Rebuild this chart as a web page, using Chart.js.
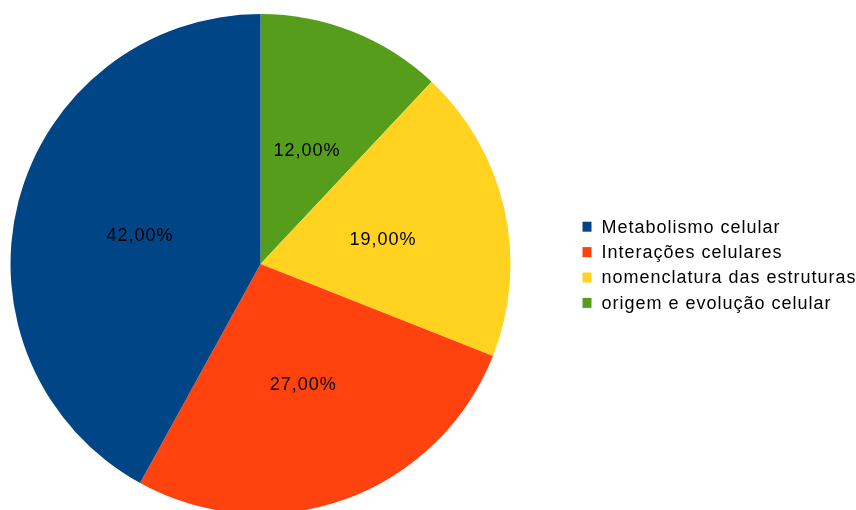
<!DOCTYPE html>
<html>
<head>
<meta charset="utf-8">
<script src="https://cdn.jsdelivr.net/npm/chart.js@4/dist/chart.umd.min.js"></script>
<style>
  html, body { margin: 0; padding: 0; background: #fff; overflow: hidden; }
  #wrap { width: 856px; height: 510px; overflow: hidden; }
</style>
</head>
<body>
<div id="wrap"><canvas id="pieChart" width="856" height="530"></canvas></div>
<script>
// legend order
var categories = ["Metabolismo celular", "Interações celulares", "nomenclatura das estruturas", "origem e evolução celular"];
var percentages = [42, 27, 19, 12];
var colors = ["#004586", "#ff420e", "#ffd320", "#579d1c"];
var percentLabels = ["42,00%", "27,00%", "19,00%", "12,00%"];

// the original pie runs counter-clockwise from the top, so feed Chart.js the reverse
var chartLabels = categories.slice().reverse();
var chartData = percentages.slice().reverse();
var chartColors = colors.slice().reverse();
var chartText = percentLabels.slice().reverse();

var FONT = '18px "Liberation Sans", Arial, sans-serif';

var sliceLabels = {
    id: 'sliceLabels',
    afterDatasetsDraw: function(chart) {
        var ctx = chart.ctx;
        var meta = chart.getDatasetMeta(0);
        ctx.save();
        ctx.font = FONT;
        ctx.letterSpacing = '1px';
        ctx.fillStyle = '#000';
        ctx.textAlign = 'center';
        ctx.textBaseline = 'middle';
        meta.data.forEach(function(arc, i) {
            var p = arc.tooltipPosition();
            ctx.fillText(chartText[i], p.x + 0.5, p.y + 3);
        });
        ctx.restore();
    }
};

var sideLegend = {
    id: 'sideLegend',
    afterDraw: function(chart) {
        var ctx = chart.ctx;
        ctx.save();
        ctx.font = FONT;
        ctx.letterSpacing = '1px';
        ctx.textAlign = 'left';
        ctx.textBaseline = 'alphabetic';
        for (var i = 0; i < categories.length; i++) {
            var top = 221.7 + i * 25.4;
            ctx.fillStyle = colors[i];
            ctx.fillRect(582.5, top, 9, 10);
            ctx.fillStyle = '#000';
            ctx.fillText(categories[i], 601.5, top + 10.8);
        }
        ctx.restore();
    }
};

new Chart(document.getElementById('pieChart'), {
    type: 'pie',
    data: {
        labels: chartLabels,
        datasets: [{
            data: chartData,
            backgroundColor: chartColors,
            borderWidth: 0
        }]
    },
    options: {
        responsive: false,
        animation: false,
        layout: { padding: { left: 10.5, top: 14, right: 345.5, bottom: 16 } },
        plugins: {
            legend: { display: false },
            tooltip: { enabled: false }
        }
    },
    plugins: [sliceLabels, sideLegend]
});
</script>
</body>
</html>
